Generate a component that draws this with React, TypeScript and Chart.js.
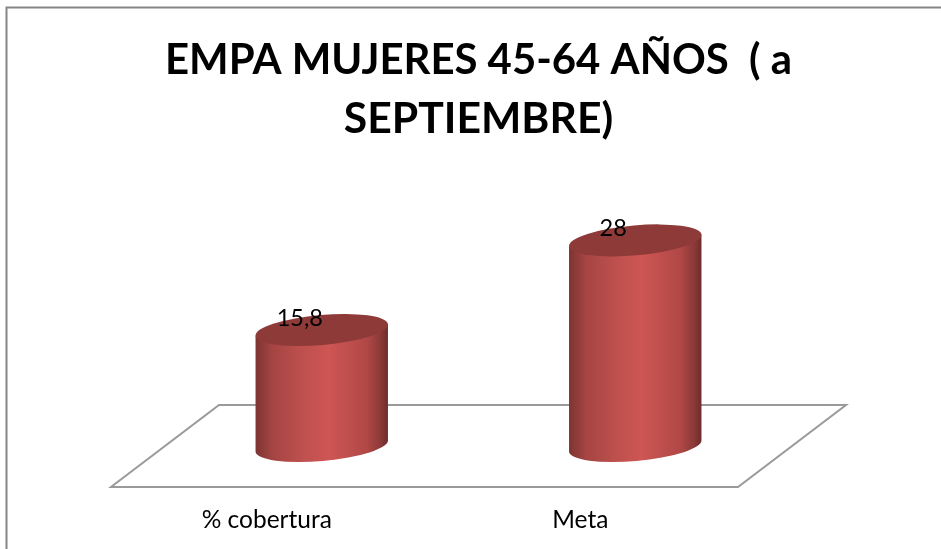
import React, { useEffect, useRef } from "react";
import { Chart, registerables } from "chart.js";

Chart.register(...registerables);

const titleLines = ["EMPA MUJERES 45-64 AÑOS  ( a", "SEPTIEMBRE)"];
const categories = ["% cobertura", "Meta"];
const values = [15.8, 28];

const FONT = "Lato, 'Open Sans', sans-serif";
const TILT = (-5 * Math.PI) / 180;

const cylinderPlugin = {
  id: "cylinder",
  beforeDraw(chart: any) {
    const { ctx, chartArea } = chart;
    ctx.save();
    ctx.fillStyle = "#ffffff";
    ctx.fillRect(0, 0, chart.width, chart.height);
    ctx.strokeStyle = "#868686";
    ctx.lineWidth = 2;
    ctx.strokeRect(6.5, 7.5, chart.width + 50, chart.height + 50);
    // floor
    const depth = 41;
    const skew = 54;
    ctx.strokeStyle = "#9a9a9a";
    ctx.lineWidth = 2;
    ctx.beginPath();
    ctx.moveTo(chartArea.left - skew, chartArea.bottom + depth);
    ctx.lineTo(chartArea.right - skew, chartArea.bottom + depth);
    ctx.lineTo(chartArea.right + skew, chartArea.bottom - depth);
    ctx.lineTo(chartArea.left + skew, chartArea.bottom - depth);
    ctx.closePath();
    ctx.stroke();
    ctx.restore();
  },
  afterDatasetsDraw(chart: any) {
    const { ctx } = chart;
    const meta = chart.getDatasetMeta(0);
    meta.data.forEach((bar: any, i: number) => {
      const rx = bar.width / 2;
      const ry = 15;
      const dy = rx * Math.sin(TILT);
      const dx = rx * Math.cos(TILT);
      const g = ctx.createLinearGradient(bar.x - rx, 0, bar.x + rx, 0);
      g.addColorStop(0, "#7c3432");
      g.addColorStop(0.13, "#a54543");
      g.addColorStop(0.35, "#bd504d");
      g.addColorStop(0.55, "#ce5654");
      g.addColorStop(0.84, "#b04846");
      g.addColorStop(0.94, "#8c3a38");
      g.addColorStop(1, "#6c2c2a");
      ctx.save();
      ctx.beginPath();
      ctx.ellipse(bar.x, bar.base, rx, ry, TILT, Math.PI, 0, true);
      ctx.lineTo(bar.x + dx, bar.y + dy);
      ctx.lineTo(bar.x - dx, bar.y - dy);
      ctx.closePath();
      ctx.fillStyle = g;
      ctx.fill();
      ctx.beginPath();
      ctx.ellipse(bar.x, bar.y, rx, ry, TILT, 0, Math.PI * 2);
      ctx.fillStyle = "#8d3a38";
      ctx.fill();
      ctx.fillStyle = "#000000";
      ctx.font = `23.5px ${FONT}`;
      ctx.textAlign = "center";
      ctx.textBaseline = "middle";
      ctx.fillText(String(values[i]).replace(".", ","), bar.x - 22, bar.y - 12);
      ctx.restore();
    });
  },
};

export default function App() {
  const ref = useRef<HTMLCanvasElement>(null);
  useEffect(() => {
    const chart = new Chart(ref.current!, {
      type: "bar",
      data: {
        labels: categories,
        datasets: [
          {
            data: values,
            backgroundColor: "rgba(0,0,0,0)",
            borderWidth: 0,
            categoryPercentage: 1,
            barPercentage: 0.424,
          },
        ],
      },
      options: {
        animation: false,
        responsive: false,
        layout: { padding: { left: 165, right: 166, top: 0, bottom: 0 } },
        plugins: {
          legend: { display: false },
          tooltip: { enabled: false },
          title: {
            display: true,
            text: titleLines,
            color: "#000000",
            font: { family: FONT, size: 42.7, weight: "bold", lineHeight: 59 / 42.7 },
            padding: { top: 31, bottom: 40 },
          },
        },
        scales: {
          x: {
            grid: { display: false, drawTicks: false },
            border: { display: false },
            afterFit: (scale: any) => {
              scale.height = 103;
            },
            ticks: {
              color: "#000000",
              font: { family: FONT, size: 24.5 },
              padding: 59,
              labelOffset: -55,
              maxRotation: 0,
            },
          },
          y: { display: false, min: 0, max: 35 },
        },
      },
      plugins: [cylinderPlugin],
    } as any);
    return () => chart.destroy();
  }, []);
  return (
    <div style={{ position: "fixed", left: 0, top: 0, width: 941, height: 549, overflow: "hidden", background: "#fff" }}>
      <canvas ref={ref} width={958} height={549} style={{ display: "block" }} />
    </div>
  );
}
